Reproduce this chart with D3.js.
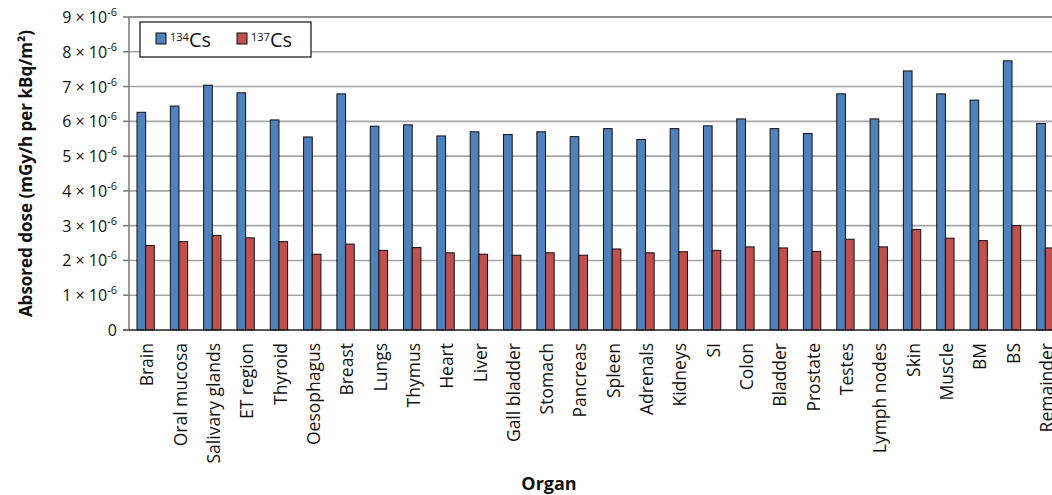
<!DOCTYPE html>
<html>
<head>
<meta charset="utf-8">
<script src="https://cdn.jsdelivr.net/npm/d3@7"></script>
<style>
  html, body { margin: 0; padding: 0; background: #fff; overflow: hidden; }
  svg { display: block; font-family: "Open Sans", "DejaVu Sans", sans-serif; }
</style>
</head>
<body>
<svg id="chart" width="1052" height="495"></svg>
<script>
const organs = ["Brain","Oral mucosa","Salivary glands","ET region","Thyroid","Oesophagus","Breast","Lungs","Thymus","Heart","Liver","Gall bladder","Stomach","Pancreas","Spleen","Adrenals","Kidneys","SI","Colon","Bladder","Prostate","Testes","Lymph nodes","Skin","Muscle","BM","BS","Remainder"];
// values in units of 1e-6 mGy/h per kBq/m2
const cs134 = [6.26,6.44,7.04,6.82,6.04,5.55,6.79,5.86,5.90,5.58,5.70,5.62,5.70,5.56,5.79,5.48,5.79,5.87,6.07,5.79,5.65,6.79,6.07,7.45,6.79,6.61,7.74,5.94];
const cs137 = [2.43,2.54,2.72,2.65,2.54,2.18,2.47,2.29,2.37,2.22,2.18,2.15,2.22,2.15,2.33,2.22,2.25,2.29,2.39,2.36,2.26,2.61,2.39,2.89,2.64,2.57,3.00,2.36];
const yTicks = [0,1,2,3,4,5,6,7,8,9];
const seriesNames = [{mass:"134", el:"Cs"},{mass:"137", el:"Cs"}];
const colors = ["#4F81BD","#C0504D"];

const svg = d3.select("#chart");
const pL = 129, pR = 1062, pT = 17, pB = 330;

const x = d3.scaleBand().domain(organs).range([pL, pR]).paddingInner(0.48).paddingOuter(0.24);
const y = d3.scaleLinear().domain([0, 9]).range([pB, pT]);
const xs = d3.scaleBand().domain([0,1]).range([0, x.bandwidth()]);

// gridlines
svg.append("g").selectAll("line").data(yTicks.filter(d => d > 0 && d < 9)).join("line")
  .attr("x1", pL).attr("x2", 1052).attr("y1", d => y(d)).attr("y2", d => y(d))
  .attr("stroke", "#a6a6a6").attr("stroke-width", 1.6);
// top border
svg.append("line").attr("x1", pL).attr("x2", 1052).attr("y1", y(9)).attr("y2", y(9))
  .attr("stroke", "#222").attr("stroke-width", 1.2);

// bars
const groups = svg.append("g").selectAll("g").data(organs).join("g")
  .attr("transform", d => `translate(${x(d)},0)`);
[cs134, cs137].forEach((vals, si) => {
  groups.append("rect")
    .attr("x", xs(si))
    .attr("width", xs.bandwidth())
    .attr("y", (d, i) => y(vals[i]))
    .attr("height", (d, i) => pB - y(vals[i]))
    .attr("fill", colors[si])
    .attr("stroke", "#111").attr("stroke-width", 1);
});

// axes lines
svg.append("line").attr("x1", pL).attr("x2", pL).attr("y1", pT).attr("y2", pB)
  .attr("stroke", "#777").attr("stroke-width", 1.5);
svg.append("line").attr("x1", pL - 6).attr("x2", 1052).attr("y1", pB).attr("y2", pB)
  .attr("stroke", "#222").attr("stroke-width", 1.5);
// y tick marks
svg.append("g").selectAll("line").data(yTicks).join("line")
  .attr("x1", pL - 6).attr("x2", pL).attr("y1", d => y(d)).attr("y2", d => y(d))
  .attr("stroke", "#777").attr("stroke-width", 1.5);

// y tick labels
const yl = svg.append("g").selectAll("text").data(yTicks).join("text")
  .attr("x", 117).attr("y", d => y(d) + 6)
  .attr("text-anchor", "end").attr("font-size", 16).attr("fill", "#111");
yl.each(function(d) {
  const t = d3.select(this);
  if (d === 0) { t.text("0"); return; }
  t.append("tspan").text(d + " \u00d7 10");
  t.append("tspan").attr("font-size", 11).attr("dy", -7).text("-6");
});

// x labels
svg.append("g").selectAll("text").data(organs).join("text")
  .attr("transform", d => `translate(${x(d) + x.bandwidth() / 2 + 1.5},343) rotate(-90)`)
  .attr("text-anchor", "end").attr("dy", "0.35em").attr("font-size", 17.5).attr("fill", "#111")
  .text(d => d);

// axis titles
svg.append("text").attr("transform", `translate(26,${(pT + pB) / 2}) rotate(-90)`)
  .attr("text-anchor", "middle").attr("dy", "0.35em").attr("font-size", 17).attr("font-weight", "bold").attr("fill", "#111")
  .text("Absored dose (mGy/h per kBq/m\u00b2)");
svg.append("text").attr("x", 549).attr("y", 490)
  .attr("text-anchor", "middle").attr("font-size", 18).attr("font-weight", "bold").attr("fill", "#111")
  .text("Organ");

// legend
const lg = svg.append("g");
lg.append("rect").attr("x", 140).attr("y", 22).attr("width", 171).attr("height", 35)
  .attr("fill", "#fff").attr("stroke", "#222").attr("stroke-width", 1.3);
const lx = [156, 237];
seriesNames.forEach((s, i) => {
  lg.append("rect").attr("x", lx[i]).attr("y", 33).attr("width", 10).attr("height", 11)
    .attr("fill", colors[i]).attr("stroke", "#111").attr("stroke-width", 1);
  const t = lg.append("text").attr("x", lx[i] + 14).attr("y", 47).attr("fill", "#111");
  t.append("tspan").attr("font-size", 11).attr("dy", -6).text(s.mass);
  t.append("tspan").attr("font-size", 20).attr("dy", 6).text(s.el);
});
</script>
</body>
</html>
